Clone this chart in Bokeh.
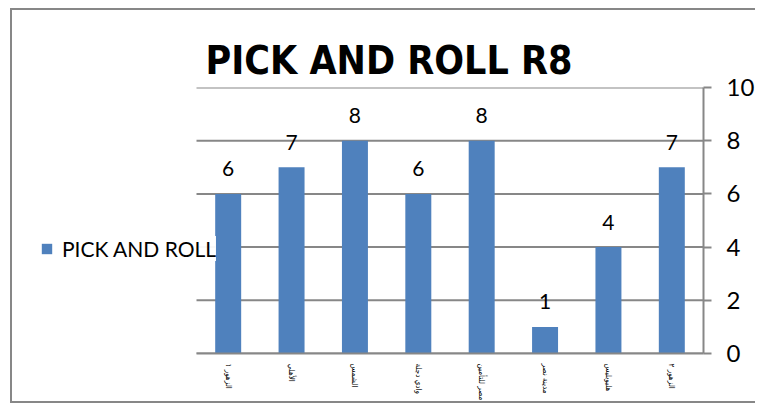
from bokeh.plotting import figure
from bokeh.models import (ColumnDataSource, Legend, LegendItem, FixedTicker,
                          Range1d)
from bokeh.core.properties import value
from bokeh.embed import file_html
from bokeh.resources import INLINE

# ---- data ----
categories = ["الزهور ١", "الأهلي", "الشمس", "وادي دجلة",
              "مصر للتأمين", "مدينة نصر", "هليوبليس", "الزهور ٢"]
values = [6, 7, 8, 6, 8, 1, 4, 7]
y_ticks = [0, 2, 4, 6, 8, 10]
series_name = "PICK AND ROLL"
title_text = "PICK AND ROLL R8"

BAR = "#4F81BD"
GRAY = "#878787"

n = len(categories)
pos = [i + 0.5 for i in range(n)]          # category centres
src = ColumnDataSource(dict(x=pos, val=values, lab=[str(v) for v in values]))

# layout (page pixels)
FRAME_L, PLOT_L, PLOT_R = 31, 196, 703
x_start = -n * (PLOT_L - FRAME_L) / (PLOT_R - PLOT_L)

p = figure(width=745, height=395,
           x_range=Range1d(x_start, n), y_range=Range1d(0, 10),
           output_backend="svg", toolbar_location=None,
           y_axis_location="right",
           min_border_left=FRAME_L - 12, min_border_right=54,
           min_border_top=77, min_border_bottom=52)

p.styles = {"margin-left": "10px", "margin-top": "8px",
            "border-left": "2px solid " + GRAY,
            "border-top": "2px solid " + GRAY,
            "border-bottom": "2px solid " + GRAY}

p.outline_line_color = None
p.background_fill_color = "white"
p.border_fill_color = "white"

# title
p.title.text = title_text
p.title.align = "left"
p.title.offset = 205 - FRAME_L
p.title.text_font = "'DejaVu Sans Condensed', sans-serif"
p.title.text_font_size = "39px"
p.title.text_font_style = "bold"
p.title.text_color = "black"
p.title.standoff = 9

# grid lines only across the category area
p.xgrid.visible = False
p.ygrid.visible = False
gsrc = ColumnDataSource(dict(y=y_ticks, x0=[0] * len(y_ticks),
                             x1=[n] * len(y_ticks)))
p.segment(x0="x0", x1="x1", y0="y", y1="y", source=gsrc,
          line_color=GRAY, line_width=2, level="underlay")

# right y axis
ya = p.yaxis[0]
ya.ticker = FixedTicker(ticks=y_ticks)
ya.axis_line_color = GRAY
ya.axis_line_width = 2
ya.major_tick_line_color = GRAY
ya.major_tick_line_width = 2
ya.major_tick_out = 8
ya.major_tick_in = 0
ya.minor_tick_line_color = None
ya.major_label_standoff = 15
ya.major_label_text_font = "Lato"
ya.major_label_text_font_size = "24px"
ya.major_label_text_color = "black"

# x axis (category names at category centres)
xa = p.xaxis[0]
xa.ticker = FixedTicker(ticks=pos)
xa.major_label_overrides = {pos[i]: categories[i] for i in range(n)}
xa.bounds = (0, n)
xa.axis_line_color = GRAY
xa.axis_line_width = 2
xa.major_tick_line_color = None
xa.minor_tick_line_color = None
xa.major_label_orientation = "vertical"
xa.major_label_standoff = 4
xa.major_label_text_font = "DejaVu Sans Condensed"
xa.major_label_text_font_size = "8px"
xa.major_label_text_color = "black"

bars = p.vbar(x="x", top="val", width=0.41, source=src,
              fill_color=BAR, line_color=None)

p.text(x="x", y="val", text="lab", source=src, text_align="center",
       text_baseline="alphabetic", y_offset=-25,
       text_font=value("Lato"), text_font_size="21px", text_color="black")

legend = Legend(items=[LegendItem(label=series_name, renderers=[bars])],
                location=(40 - FRAME_L, 92), orientation="vertical",
                glyph_width=13, glyph_height=13, label_standoff=9,
                padding=0, margin=0, spacing=0,
                border_line_color=None, background_fill_color="white",
                label_text_font="Lato", label_text_font_size="21px",
                label_text_color="black")
legend.level = "underlay"
p.add_layout(legend)

open("out.html", "w").write(file_html(p, INLINE))
